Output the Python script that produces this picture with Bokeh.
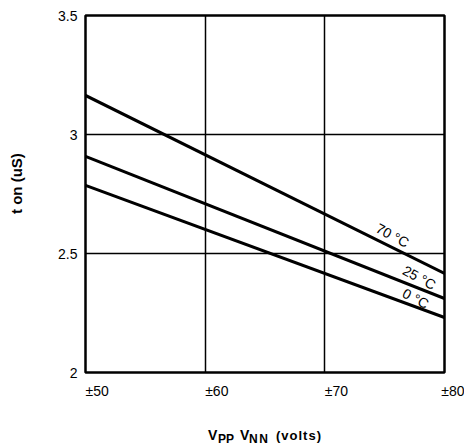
from bokeh.plotting import figure
from bokeh.models import Label, FixedTicker, Range1d, Div
from bokeh.layouts import column
from bokeh.embed import file_html
from bokeh.resources import INLINE

# Data
voltage = [50, 80]
t_70 = [3.164, 2.416]
t_25 = [2.908, 2.311]
t_0 = [2.786, 2.231]
x_ticks = [50, 60, 70, 80]
x_tick_labels = ["±50", "±60", "±70", "±80"]
y_ticks = [2, 2.5, 3, 3.5]
y_tick_labels = ["2", "2.5", "3", "3.5"]
curve_labels = ["70 °C", "25 °C", "0 °C"]
y_title = "t on (uS)"

FONT = "Liberation Sans"

p = figure(width=464, height=420, output_backend="svg", toolbar_location=None,
           x_range=Range1d(50, 80), y_range=Range1d(2, 3.5),
           min_border_left=85, min_border_right=20, min_border_top=15, min_border_bottom=48)
p.background_fill_color = "white"
p.border_fill_color = "white"
p.outline_line_color = "black"
p.outline_line_width = 2.5

for ax in (p.xaxis[0], p.yaxis[0]):
    ax.axis_line_color = None
    ax.major_tick_line_color = None
    ax.minor_tick_line_color = None
    ax.major_tick_out = 0
    ax.major_tick_in = 0
    ax.minor_tick_out = 0
    ax.major_label_text_font = FONT
    ax.major_label_text_font_size = "14px"
    ax.major_label_text_color = "black"

p.xaxis.ticker = FixedTicker(ticks=x_ticks)
p.xaxis.major_label_overrides = dict(zip(x_ticks, x_tick_labels))
p.xaxis.major_label_orientation = -0.0001
p.xaxis.major_label_standoff = 18
p.yaxis.ticker = FixedTicker(ticks=y_ticks)
p.yaxis.major_label_overrides = dict(zip(y_ticks, y_tick_labels))
p.yaxis.major_label_standoff = 8

# leading no-break spaces nudge the centred title upward, as in the reference
p.yaxis.axis_label = "\u00a0" * 5 + y_title
p.yaxis.axis_label_text_font = FONT
p.yaxis.axis_label_text_font_size = "15px"
p.yaxis.axis_label_text_font_style = "bold"
p.yaxis.axis_label_text_color = "black"
p.yaxis.axis_label_standoff = 30

p.xgrid.ticker = FixedTicker(ticks=[60, 70])
p.ygrid.ticker = FixedTicker(ticks=[2.5, 3])
for g in (p.xgrid[0], p.ygrid[0]):
    g.grid_line_color = "black"
    g.grid_line_width = 1.5
    g.grid_line_alpha = 1.0

for ys in (t_70, t_25, t_0):
    p.line(voltage, ys, line_color="black", line_width=3)

# curve labels
for txt, x, y in zip(curve_labels, (75.66, 77.9, 77.6), (2.576, 2.399, 2.311)):
    p.add_layout(Label(x=x, y=y, text=txt, angle=-0.49, text_align="center",
                       text_baseline="middle", text_font=FONT, text_font_size="14px",
                       text_color="black"))

# x axis title with subscripts (HTML, below the plot)
parts = [("V", 208, 8, 14, 0), ("PP", 218, 13, 12, 0), ("V", 240, 8, 14, 0),
         ("NN", 249, 13, 12, 1.5), ("(volts)", 276, 9, 13, 1)]
spans = "".join(
    f'<span style="position:absolute;left:{x}px;top:{t}px;font-size:{fs}px;line-height:1;'
    f'letter-spacing:{ls}px;white-space:nowrap">{txt}</span>'
    for txt, x, t, fs, ls in parts)
html = (f'<div style="position:relative;width:464px;height:28px;font-family:\'Liberation Sans\';'
        f'font-weight:bold;color:black">{spans}</div>')
div = Div(text=html, width=464, height=28, margin=0)

layout = column(p, div, spacing=0)
open("out.html", "w").write(file_html(layout, INLINE))
